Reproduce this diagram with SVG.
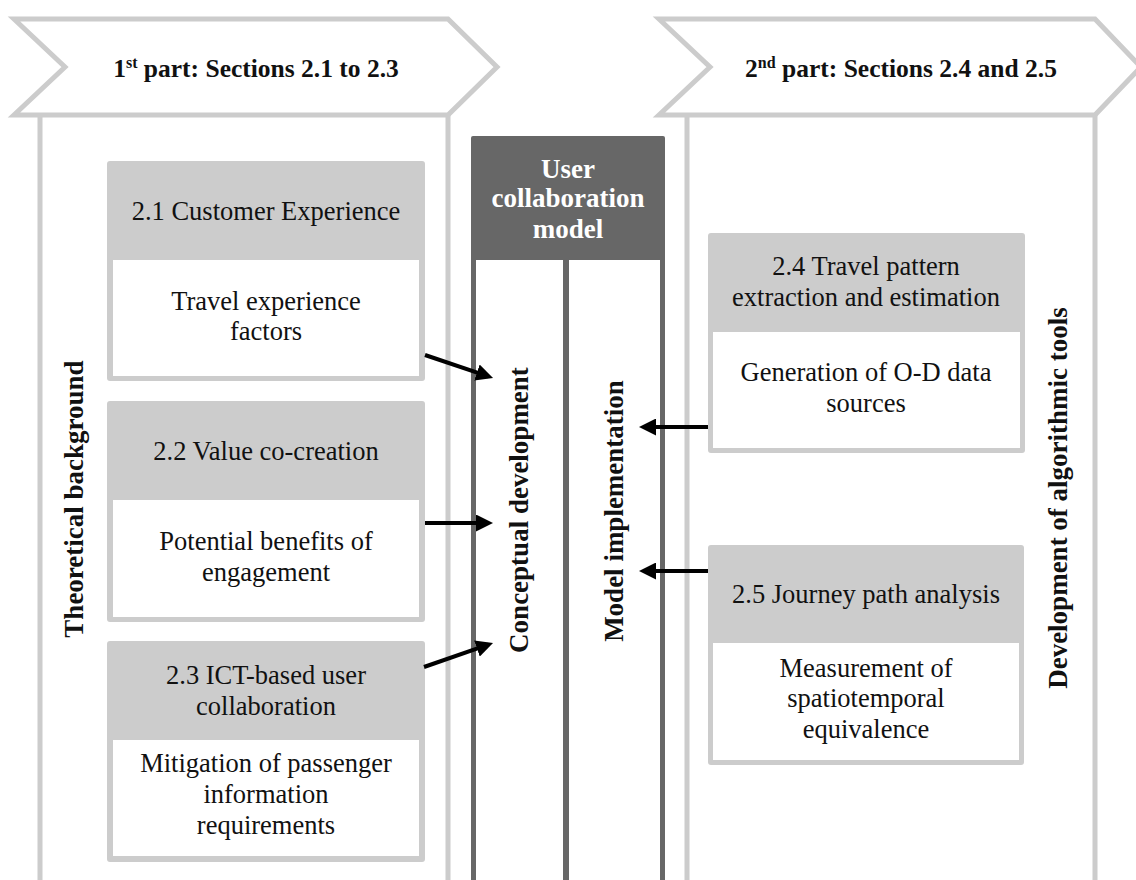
<svg xmlns="http://www.w3.org/2000/svg" width="1136" height="880" viewBox="0 0 1136 880">
  <style>
    .frame { fill: none; stroke: #cccccc; stroke-width: 5; }
    .chev { fill: #ffffff; stroke: #cccccc; stroke-width: 5; stroke-linejoin: miter; }
    .head { fill: #cccccc; }
    .body { fill: #ffffff; }
    .txt { font-family: "Liberation Serif", "Times New Roman", serif; font-size: 26.5px; fill: #111111; text-anchor: middle; }
    .lbl { font-family: "Liberation Serif", "Times New Roman", serif; font-size: 27px; font-weight: bold; fill: #111111; text-anchor: middle; }
    .part { font-family: "Liberation Serif", "Times New Roman", serif; font-size: 25.5px; font-weight: bold; fill: #111111; text-anchor: middle; }
    .core { fill: #676767; }
    .coretxt { font-family: "Liberation Serif", "Times New Roman", serif; font-size: 27px; font-weight: bold; fill: #ffffff; text-anchor: middle; }
    .conn { stroke: #000000; stroke-width: 4; fill: none; marker-end: url(#arrow); }
  </style>
  <defs>
    <marker id="arrow" markerUnits="userSpaceOnUse" markerWidth="17" markerHeight="17" refX="12" refY="8.5" orient="auto">
      <path d="M0,0 L17,8.5 L0,17 z" fill="#000000"/>
    </marker>
  </defs>

  <rect x="0" y="0" width="1136" height="880" fill="#ffffff"/>

  <!-- first part: header chevron and column -->
  <g id="part1">
    <path class="frame" d="M40,115 V885 M448,115 V885"/>
    <polygon class="chev" points="14,19 448,19 497,67 448,115 14,115 65,67"/>
    <text class="part" x="256" y="77">1<tspan font-size="16" dy="-9">st</tspan><tspan dy="9"> part: Sections 2.1 to 2.3</tspan></text>
    <text class="lbl" transform="translate(83,499) rotate(-90)">Theoretical background</text>
  </g>

  <!-- second part: header chevron and column -->
  <g id="part2">
    <path class="frame" d="M687,115 V885 M1095,115 V885"/>
    <polygon class="chev" points="659,19 1095,19 1141,67 1095,115 659,115 710,67"/>
    <text class="part" x="901" y="77">2<tspan font-size="16" dy="-9">nd</tspan><tspan dy="9"> part: Sections 2.4 and 2.5</tspan></text>
    <text class="lbl" transform="translate(1067,498) rotate(-90)">Development of algorithmic tools</text>
  </g>

  <!-- central model -->
  <g id="model">
    <rect class="core" x="471" y="136" width="194" height="760" rx="2"/>
    <rect class="body" x="476" y="260" width="87" height="640"/>
    <rect class="body" x="569" y="260" width="91" height="640"/>
    <text class="coretxt" x="568" y="178">User</text>
    <text class="coretxt" x="568" y="207">collaboration</text>
    <text class="coretxt" x="568" y="238">model</text>
    <text class="lbl" transform="translate(528,510) rotate(-90)">Conceptual development</text>
    <text class="lbl" transform="translate(623,511) rotate(-90)">Model implementation</text>
  </g>

  <g id="s21">
    <rect class="head" x="107" y="161" width="318" height="220" rx="3"/>
    <rect class="body" x="113" y="260" width="306" height="116"/>
    <text class="txt" x="266" y="220">2.1 Customer Experience</text>
    <text class="txt" x="266" y="310">Travel experience</text>
    <text class="txt" x="266" y="340">factors</text>
  </g>

  <g id="s22">
    <rect class="head" x="107" y="401" width="318" height="221" rx="3"/>
    <rect class="body" x="113" y="500" width="306" height="117"/>
    <text class="txt" x="266" y="460">2.2 Value co-creation</text>
    <text class="txt" x="266" y="550">Potential benefits of</text>
    <text class="txt" x="266" y="581">engagement</text>
  </g>

  <g id="s23">
    <rect class="head" x="107" y="641" width="318" height="221" rx="3"/>
    <rect class="body" x="113" y="740" width="306" height="116"/>
    <text class="txt" x="266" y="684">2.3 ICT-based user</text>
    <text class="txt" x="266" y="715">collaboration</text>
    <text class="txt" x="266" y="772">Mitigation of passenger</text>
    <text class="txt" x="266" y="803">information</text>
    <text class="txt" x="266" y="834">requirements</text>
  </g>

  <g id="s24">
    <rect class="head" x="708" y="233" width="317" height="220" rx="3"/>
    <rect class="body" x="713" y="332" width="307" height="116"/>
    <text class="txt" x="866" y="275">2.4 Travel pattern</text>
    <text class="txt" x="866" y="306">extraction and estimation</text>
    <text class="txt" x="866" y="381">Generation of O-D data</text>
    <text class="txt" x="866" y="412">sources</text>
  </g>

  <g id="s25">
    <rect class="head" x="708" y="545" width="316" height="220" rx="3"/>
    <rect class="body" x="713" y="643" width="306" height="117"/>
    <text class="txt" x="866" y="603">2.5 Journey path analysis</text>
    <text class="txt" x="866" y="677">Measurement of</text>
    <text class="txt" x="866" y="707">spatiotemporal</text>
    <text class="txt" x="866" y="738">equivalence</text>
  </g>

  <g id="connectors">
    <line class="conn" x1="425" y1="355" x2="488.3" y2="376.4"/>
    <line class="conn" x1="425" y1="523" x2="488" y2="523"/>
    <line class="conn" x1="424" y1="667" x2="488.3" y2="644.6"/>
    <line class="conn" x1="708" y1="427" x2="644" y2="427"/>
    <line class="conn" x1="708" y1="571" x2="644" y2="571"/>
  </g>
</svg>
